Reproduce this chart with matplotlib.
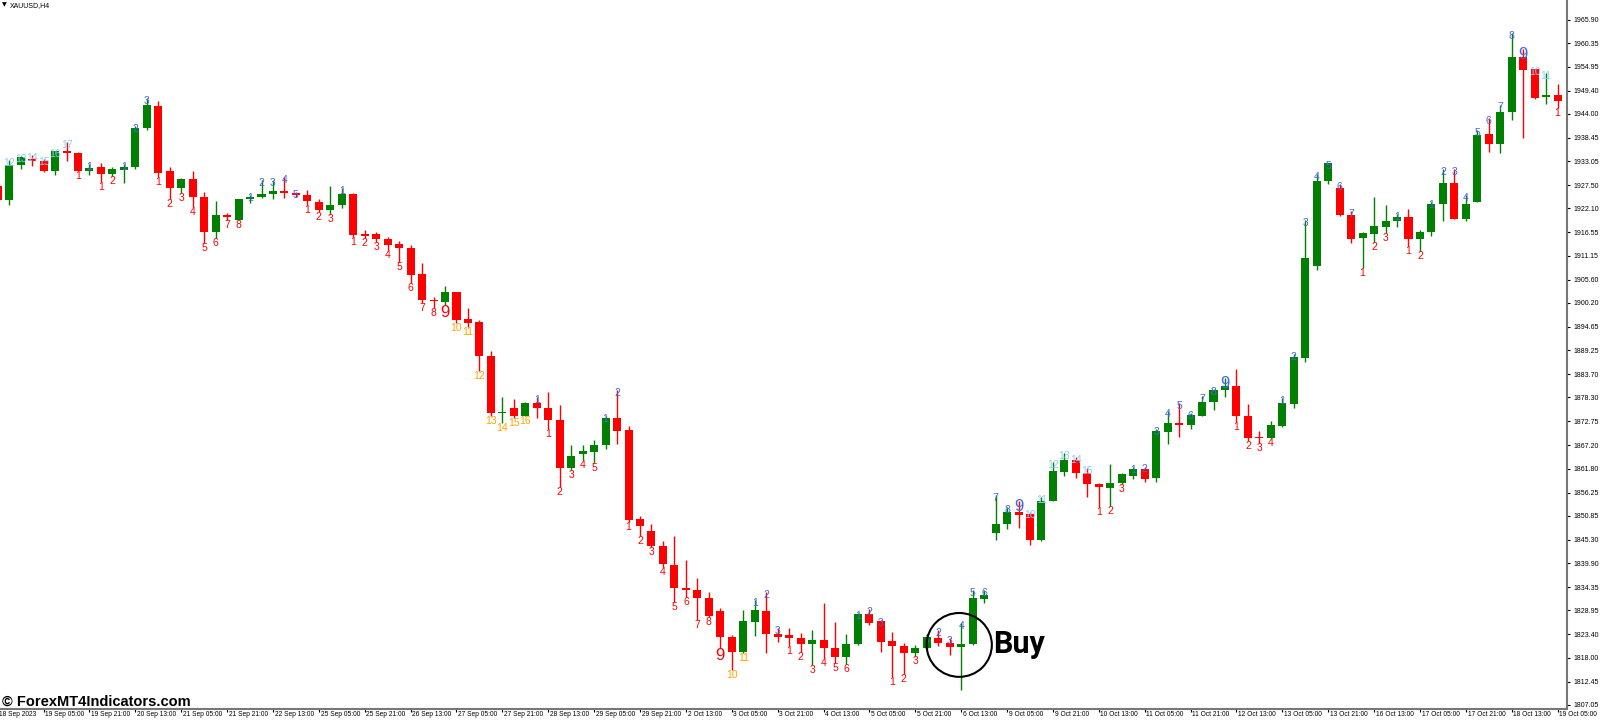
import numpy as np
import matplotlib.pyplot as plt
from matplotlib.patches import Ellipse

# XAUUSD H4 candles, bar 0 = 18 Sep 13:00
opens = [1927.2, 1924.1, 1932.2, 1933.6, 1933.2, 1930.9, 1935.4, 1935.0, 1930.9, 1931.8,
         1930.0, 1931.0, 1931.6, 1940.7, 1945.9, 1930.7, 1926.9, 1928.9, 1924.8, 1916.6,
         1920.5, 1919.4, 1924.2, 1924.7, 1925.5, 1926.1, 1925.6, 1925.2, 1923.7, 1921.8,
         1923.0, 1925.5, 1916.2, 1916.2, 1915.1, 1913.8, 1913.0, 1906.9, 1901.0, 1900.4,
         1902.7, 1896.4, 1895.7, 1887.9, 1874.6, 1875.9, 1874.1, 1877.1, 1875.9, 1873.0,
         1861.9, 1865.1, 1865.7, 1867.3, 1873.6, 1870.8, 1850.1, 1847.4, 1843.8, 1839.5,
         1834.2, 1833.7, 1831.8, 1828.8, 1822.9, 1819.2, 1826.3, 1828.8, 1823.5, 1823.3,
         1822.5, 1821.1, 1822.0, 1820.2, 1818.1, 1821.1, 1828.1, 1826.4, 1821.9, 1820.7,
         1819.0, 1820.2, 1822.6, 1821.4, 1820.4, 1821.2, 1831.6, 1846.8, 1848.9, 1851.7,
         1851.3, 1845.3, 1854.4, 1861.1, 1863.8, 1860.9, 1858.3, 1857.4, 1858.4, 1860.0,
         1861.7, 1859.6, 1870.4, 1872.3, 1871.9, 1874.1, 1877.3, 1880.0, 1881.0, 1873.9,
         1869.1, 1869.0, 1871.8, 1876.9, 1887.5, 1908.8, 1928.5, 1926.8, 1920.7, 1915.2,
         1916.1, 1917.9, 1919.3, 1920.1, 1915.0, 1916.6, 1923.1, 1927.9, 1919.7, 1923.7,
         1939.3, 1937.1, 1944.4, 1957.3, 1954.4, 1947.9, 1948.4]
highs = [1928.1, 1933.3, 1934.3, 1934.5, 1933.6, 1935.5, 1937.4, 1935.3, 1932.4, 1932.6,
         1931.6, 1932.4, 1941.3, 1947.6, 1946.9, 1931.6, 1929.2, 1930.7, 1926.0, 1923.9,
         1921.1, 1924.3, 1925.2, 1928.7, 1928.7, 1929.3, 1925.9, 1926.5, 1924.3, 1927.3,
         1926.8, 1925.6, 1917.1, 1916.7, 1915.6, 1914.6, 1913.6, 1909.5, 1901.7, 1904.1,
         1902.8, 1899.0, 1896.3, 1889.1, 1878.3, 1877.9, 1877.3, 1878.3, 1879.6, 1876.5,
         1867.3, 1867.3, 1868.4, 1874.1, 1880.0, 1871.8, 1850.8, 1849.0, 1845.0, 1846.2,
         1840.6, 1836.4, 1833.3, 1829.4, 1823.3, 1829.1, 1831.4, 1833.3, 1824.8, 1824.8,
         1823.6, 1824.4, 1830.6, 1826.2, 1823.5, 1828.3, 1829.2, 1826.7, 1823.9, 1821.3,
         1820.9, 1822.9, 1824.4, 1822.5, 1826.0, 1833.7, 1833.6, 1855.7, 1853.0, 1854.2,
         1851.8, 1855.3, 1863.4, 1865.4, 1864.6, 1861.9, 1858.4, 1862.8, 1860.7, 1862.1,
         1862.3, 1871.0, 1875.2, 1877.1, 1874.6, 1878.6, 1880.2, 1882.7, 1884.9, 1876.8,
         1870.6, 1872.9, 1878.1, 1888.3, 1919.4, 1930.0, 1932.6, 1927.8, 1921.6, 1916.6,
         1924.7, 1922.9, 1920.8, 1921.9, 1917.1, 1923.7, 1931.2, 1931.3, 1925.2, 1940.3,
         1943.0, 1946.2, 1962.7, 1959.0, 1954.5, 1953.4, 1950.9]
lows = [1923.5, 1922.9, 1931.2, 1931.9, 1930.5, 1929.9, 1933.0, 1930.7, 1929.9, 1928.3,
        1929.7, 1927.9, 1931.2, 1940.4, 1929.3, 1924.2, 1925.8, 1922.5, 1914.0, 1915.2,
        1919.4, 1919.4, 1923.3, 1924.5, 1924.2, 1924.6, 1924.7, 1922.9, 1921.4, 1920.8,
        1922.3, 1915.6, 1915.2, 1914.4, 1912.5, 1909.8, 1904.8, 1900.1, 1899.0, 1899.7,
        1895.6, 1894.6, 1884.5, 1874.1, 1872.5, 1873.5, 1873.9, 1873.6, 1871.1, 1857.6,
        1861.5, 1863.8, 1863.0, 1866.3, 1867.5, 1849.5, 1846.1, 1843.7, 1839.1, 1831.0,
        1832.1, 1826.7, 1827.5, 1820.2, 1815.2, 1819.0, 1823.1, 1819.0, 1821.7, 1820.7,
        1819.4, 1816.3, 1817.9, 1816.7, 1816.5, 1820.9, 1825.6, 1819.4, 1813.6, 1814.2,
        1818.4, 1820.0, 1820.6, 1818.5, 1810.5, 1820.9, 1830.6, 1845.3, 1847.8, 1848.0,
        1844.1, 1845.1, 1854.4, 1860.2, 1859.7, 1855.2, 1853.0, 1853.2, 1858.2, 1859.3,
        1858.6, 1858.6, 1867.5, 1869.1, 1870.9, 1873.9, 1875.4, 1878.5, 1872.7, 1868.1,
        1867.7, 1868.8, 1871.5, 1875.8, 1886.6, 1907.8, 1927.7, 1920.4, 1914.2, 1908.2,
        1914.4, 1916.4, 1917.9, 1913.3, 1912.3, 1915.7, 1919.1, 1919.6, 1919.1, 1923.5,
        1935.3, 1935.0, 1942.6, 1938.4, 1947.5, 1946.3, 1945.4]
closes = [1924.1, 1932.2, 1934.0, 1933.2, 1930.9, 1935.4, 1935.0, 1930.9, 1931.4, 1930.0,
          1931.3, 1931.8, 1940.8, 1946.1, 1930.4, 1926.9, 1928.9, 1924.7, 1916.6, 1920.5,
          1920.1, 1924.2, 1924.8, 1925.5, 1926.1, 1925.6, 1925.2, 1923.8, 1921.8, 1923.0,
          1925.5, 1916.0, 1915.8, 1915.0, 1913.6, 1913.0, 1906.7, 1900.9, 1900.7, 1902.7,
          1896.3, 1895.5, 1887.8, 1874.6, 1874.9, 1874.1, 1877.1, 1875.9, 1873.1, 1861.9,
          1864.7, 1865.8, 1867.3, 1873.6, 1870.5, 1849.9, 1848.6, 1843.9, 1839.6, 1834.1,
          1833.7, 1831.8, 1827.7, 1822.9, 1819.2, 1826.4, 1829.1, 1823.4, 1822.9, 1822.6,
          1821.1, 1822.0, 1820.2, 1818.1, 1821.1, 1828.1, 1826.1, 1821.7, 1820.6, 1819.0,
          1820.2, 1822.7, 1821.3, 1820.4, 1821.2, 1831.8, 1832.5, 1849.0, 1851.7, 1851.1,
          1845.3, 1854.4, 1861.3, 1863.8, 1860.7, 1858.2, 1857.5, 1858.4, 1860.5, 1861.7,
          1859.4, 1870.5, 1872.3, 1871.9, 1874.2, 1877.3, 1880.0, 1881.0, 1873.9, 1868.8,
          1868.8, 1871.9, 1877.1, 1887.6, 1910.7, 1928.5, 1932.6, 1920.6, 1915.0, 1916.4,
          1918.0, 1919.2, 1920.2, 1915.0, 1916.6, 1923.1, 1927.9, 1919.7, 1923.1, 1939.1,
          1937.1, 1944.4, 1957.3, 1954.2, 1947.7, 1948.4, 1947.1]

# counter labels above the bars (blue) and below the bars (red / orange)
up_idx = [0, 1, 2, 3, 4, 5, 6, 8, 11, 12, 13, 22, 23, 24, 25, 26, 30, 47, 53, 54,
          66, 67, 68, 75, 76, 77, 81, 82, 83, 84, 85, 86, 87, 88, 89, 90, 91, 92, 93, 94,
          95, 99, 100, 101, 102, 103, 104, 105, 106, 107, 112, 113, 114, 115, 116, 117, 118, 122,
          125, 126, 127, 128, 129, 130, 131, 132, 133, 134, 135]
up_txt = ['11', '12', '13', '14', '15', '16', '17', '1', '1', '2', '3', '1', '2', '3', '4', '5', '1', '1', '1', '2',
          '1', '2', '3', '1', '2', '3', '1', '2', '3', '4', '5', '6', '7', '8', '9', '10', '11', '12', '13', '14',
          '15', '1', '2', '3', '4', '5', '6', '7', '8', '9', '1', '2', '3', '4', '5', '6', '7', '1',
          '1', '2', '3', '4', '5', '6', '7', '8', '9', '10', '11']
dn_idx = [7, 9, 10, 14, 15, 16, 17, 18, 19, 20, 21, 27, 28, 29, 31, 32, 33, 34, 35, 36,
          37, 38, 39, 40, 41, 42, 43, 44, 45, 46, 48, 49, 50, 51, 52, 55, 56, 57, 58, 59,
          60, 61, 62, 63, 64, 65, 69, 70, 71, 72, 73, 74, 78, 79, 80, 96, 97, 98, 108, 109,
          110, 111, 119, 120, 121, 123, 124, 136]
dn_txt = ['1', '1', '2', '1', '2', '3', '4', '5', '6', '7', '8', '1', '2', '3', '1', '2', '3', '4', '5', '6',
          '7', '8', '9', '10', '11', '12', '13', '14', '15', '16', '1', '2', '3', '4', '5', '1', '2', '3', '4', '5',
          '6', '7', '8', '9', '10', '11', '1', '2', '3', '4', '5', '6', '1', '2', '3', '1', '2', '3', '1', '2',
          '3', '4', '1', '2', '3', '1', '2', '1']

time_labels = ['18 Sep 2023', '19 Sep 05:00', '19 Sep 21:00', '20 Sep 13:00', '21 Sep 05:00',
               '21 Sep 21:00', '22 Sep 13:00', '25 Sep 05:00', '25 Sep 21:00', '26 Sep 13:00',
               '27 Sep 05:00', '27 Sep 21:00', '28 Sep 13:00', '29 Sep 05:00', '29 Sep 21:00',
               '2 Oct 13:00', '3 Oct 05:00', '3 Oct 21:00', '4 Oct 13:00', '5 Oct 05:00',
               '5 Oct 21:00', '6 Oct 13:00', '9 Oct 05:00', '9 Oct 21:00', '10 Oct 13:00',
               '11 Oct 05:00', '11 Oct 21:00', '12 Oct 13:00', '13 Oct 05:00', '13 Oct 21:00',
               '16 Oct 13:00', '17 Oct 05:00', '17 Oct 21:00', '18 Oct 13:00', '19 Oct 05:00']
price_ticks = [1965.90, 1960.35, 1954.95, 1949.40, 1944.00, 1938.45, 1933.05, 1927.50, 1922.10,
               1916.55, 1911.15, 1905.60, 1900.20, 1894.65, 1889.25, 1883.70, 1878.30, 1872.75,
               1867.20, 1861.80, 1856.25, 1850.85, 1845.30, 1839.90, 1834.35, 1828.95, 1823.40,
               1818.00, 1812.45, 1807.05]

GREEN = '#008000'
RED = '#ff0000'
BLUE = '#4169e1'
LIGHTBLUE = '#87cefa'
ORANGE = '#ffa500'
FONT = ['Liberation Sans', 'DejaVu Sans']

o = np.array(opens)
h = np.array(highs)
l = np.array(lows)
c = np.array(closes)
x = np.arange(len(o))
bull = c >= o
col = np.where(bull, GREEN, RED)
body_lo = np.minimum(o, c)
body_h = np.maximum(np.abs(c - o), 0.3)

fig = plt.figure(figsize=(16, 7.2), dpi=100)
ax = fig.add_axes([0, 11 / 720, 1567 / 1600, 709 / 720])

ax.vlines(x, l, h, colors=col, linewidth=1.0, zorder=1)
ax.bar(x, body_h, bottom=body_lo, width=0.7, color=col, linewidth=0, zorder=2)

for i, t in zip(up_idx, up_txt):
    if t == '9':
        clr, fs = BLUE, 12
    elif int(t) >= 10:
        clr, fs = LIGHTBLUE, 7.5
    else:
        clr, fs = BLUE, 7.5
    ax.annotate(t, (i, h[i]), xytext=(0, 1.5), textcoords='offset points',
                ha='center', va='top', color=clr, fontsize=fs, family=FONT, zorder=4)

for i, t in zip(dn_idx, dn_txt):
    if t == '9':
        clr, fs = RED, 12
    elif int(t) >= 10:
        clr, fs = ORANGE, 7.5
    else:
        clr, fs = RED, 7.5
    ax.annotate(t, (i, l[i]), xytext=(0, 0), textcoords='offset points',
                ha='center', va='top', color=clr, fontsize=fs, family=FONT, zorder=4)

# buy signal
ax.add_patch(Ellipse((83.83, 1820.95), width=5.69, height=14.8, fill=False,
                     edgecolor='black', linewidth=1.5, zorder=5))
ax.text(86.77, 1819.1, 'Buy', fontsize=22, fontweight='bold', family=['Roboto', 'DejaVu Sans'],
        ha='left', va='baseline', color='black', zorder=5)

ax.set_xlim(0.2, 136.82)
ax.set_ylim(1806.1, 1970.42)

for s in ['top', 'left']:
    ax.spines[s].set_visible(False)
for s in ['right', 'bottom']:
    ax.spines[s].set_color('#777777')
    ax.spines[s].set_linewidth(1.5)

ax.yaxis.tick_right()
ax.set_yticks(price_ticks)
ax.set_yticklabels(['%.2f' % p for p in price_ticks], fontsize=5, family=FONT)
ax.tick_params(axis='y', direction='out', length=2, width=0.8, pad=3, colors='black')

tick_pos = np.arange(len(time_labels)) * 4
ax.set_xticks(tick_pos[1:])
ax.set_xticklabels([])
ax.tick_params(axis='x', direction='out', length=2.5, width=0.8, colors='black')
for p, t in zip(tick_pos, time_labels):
    ax.annotate(t, (p, 0), xycoords=('data', 'axes fraction'), xytext=(1.2, -1.2),
                textcoords='offset points', ha='left', va='top', fontsize=4.8,
                family=FONT, annotation_clip=False)

fig.text(2 / 1600, 1 - 2 / 720, '\u25bc', fontsize=4.5, family='DejaVu Sans', va='top', ha='left')
fig.text(10 / 1600, 1 - 2 / 720, 'XAUUSD,H4', fontsize=5, family=FONT, va='top', ha='left')
fig.text(2 / 1600, 14 / 720, '\u00a9 ForexMT4Indicators.com', fontsize=10.5, fontweight='bold',
         family=FONT, va='baseline', ha='left')

fig.savefig('out.png', dpi=100, facecolor='white')
